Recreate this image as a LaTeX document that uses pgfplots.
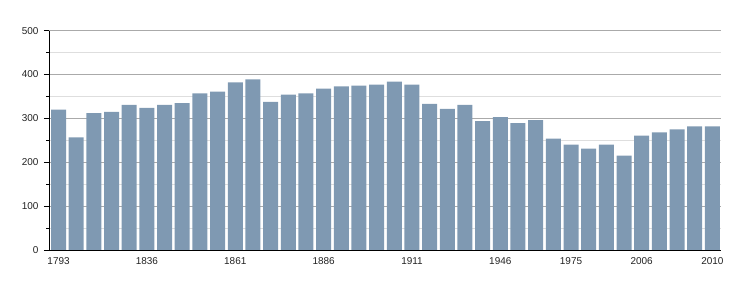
\documentclass[border=0pt]{standalone}
\usepackage{pgfplots}
\pgfplotsset{compat=1.18}
\usepackage{fontspec}
\setmainfont{Liberation Sans}
\usetikzlibrary{calc}
\definecolor{barc}{RGB}{127,153,178}
\definecolor{majgrid}{RGB}{170,170,170}
\definecolor{mingrid}{RGB}{222,222,222}
\definecolor{lbl}{RGB}{34,34,34}
\begin{document}
\begin{tikzpicture}
\begin{axis}[
  scale only axis,
  width=671.5bp, height=219.3bp,
  xmin=-0.54, xmax=37.46, ymin=0, ymax=500,
  axis x line*=bottom, axis y line*=left,
  axis line style={black, line width=0.9bp},
  ytick={0,100,...,500}, minor ytick={50,150,...,450},
  ymajorgrids, yminorgrids,
  major grid style={majgrid, line width=0.9bp},
  minor grid style={mingrid, line width=0.9bp},
  tick align=outside,
  major tick length=5bp, minor tick length=2.5bp,
  ytick style={black, line width=0.9bp},
  minor tick style={black, line width=0.9bp},
  xtick={0,5,10,15,20,25,29,33,37},
  xticklabels={1793,1836,1861,1886,1911,1946,1975,2006,2010},
  xtick style={draw=none},
  /pgf/number format/assume math mode=true,
  tick label style={font=\fontsize{10}{12}\selectfont, text=lbl},
  yticklabel style={xshift=-2bp},
  xticklabel style={yshift=1bp},
  ybar, bar width=15bp,
]
\addplot[fill=barc, draw=none] coordinates {
(0,320) (1,257) (2,312) (3,315) (4,331) (5,324) (6,331) (7,335) (8,357) (9,361)
(10,382) (11,389) (12,338) (13,354) (14,357) (15,368) (16,373) (17,375) (18,377) (19,384)
(20,377) (21,333) (22,322) (23,331) (24,294) (25,303) (26,289) (27,296) (28,254) (29,240)
(30,231) (31,240) (32,215) (33,261) (34,268) (35,275) (36,282) (37,282)
};
\coordinate (bl) at (rel axis cs:0,0);
\end{axis}
\pgfresetboundingbox
\path ($(bl)+(-49bp,-50bp)$) rectangle ($(bl)+(701bp,250bp)$);
\end{tikzpicture}
\end{document}
